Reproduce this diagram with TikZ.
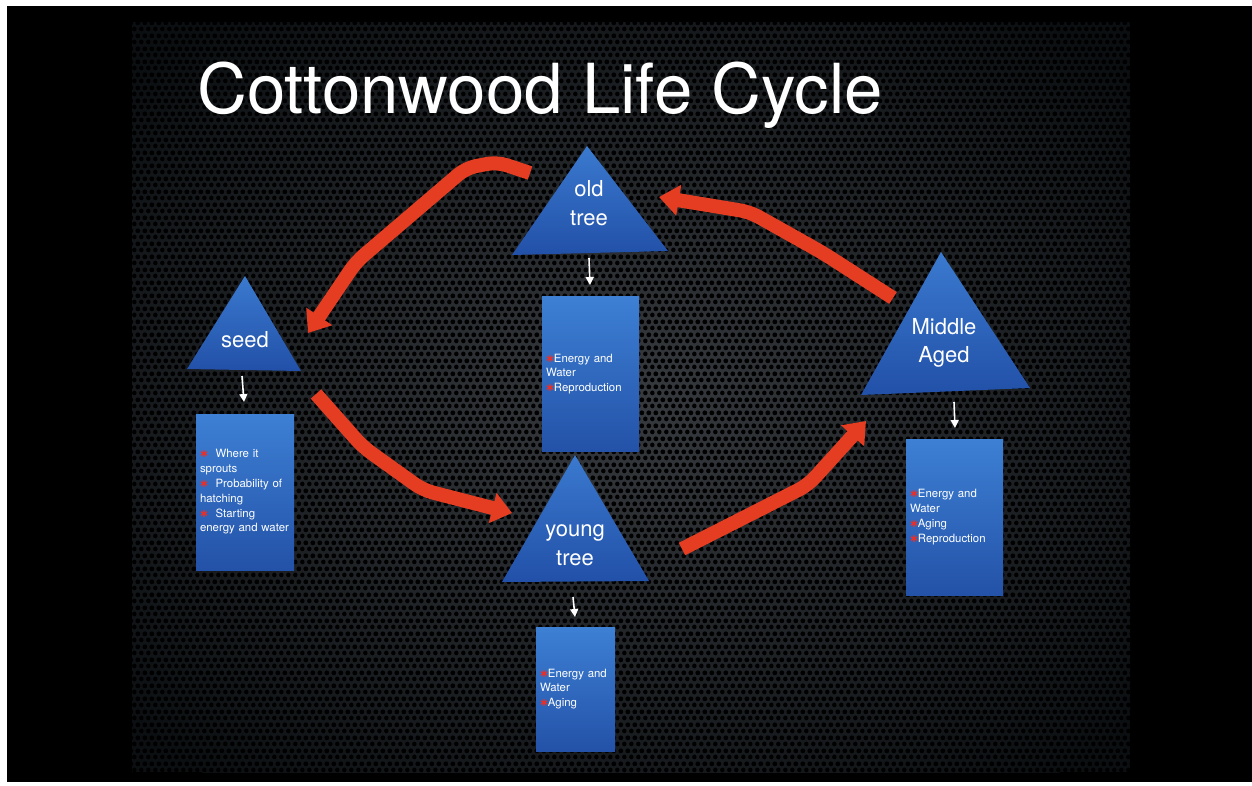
\documentclass[tikz,border=0pt]{standalone}
\usepackage{fontspec}
\setmainfont{TeX Gyre Heros}
\newfontfamily\symfont{DejaVu Sans}
\usetikzlibrary{arrows.meta,patterns}
\definecolor{bgmid}{HTML}{373A3E}
\definecolor{bgedge}{HTML}{0C0F12}
\definecolor{boxtop}{HTML}{3D80D4}
\definecolor{boxbot}{HTML}{2352A8}
\definecolor{tritop}{HTML}{3A7ACF}
\definecolor{tribot}{HTML}{2250A8}
\definecolor{arrowred}{HTML}{E43D22}
\definecolor{bulred}{HTML}{E8302A}
\pgfdeclarepatternformonly{holes}{\pgfpointorigin}{\pgfpoint{7.3pt}{12.6pt}}{\pgfpoint{7.3pt}{12.6pt}}{%
  \pgfpathcircle{\pgfpoint{3.65pt}{3.15pt}}{2.45pt}%
  \pgfpathcircle{\pgfpoint{0pt}{9.45pt}}{2.45pt}%
  \pgfpathcircle{\pgfpoint{7.3pt}{9.45pt}}{2.45pt}%
  \pgfusepath{fill}}
\newcommand{\bul}{{\symfont\color{bulred}\fontsize{9.5}{9.5}\selectfont ✱}}
\begin{document}
\begin{tikzpicture}[x=1pt,y=-1pt,
  infobox/.style={top color=boxtop, bottom color=boxbot, inner xsep=4pt, inner ysep=0pt,
    align=left, text=white, font=\fontsize{11.4}{14.8}\selectfont},
  trilabel/.style={text=white, align=center, inner sep=0pt, font=\fontsize{22}{28.5}\selectfont},
  redarrow/.style={draw=arrowred, line width=14pt, rounded corners=10pt,
    -{Triangle[width=30pt,length=20pt]}},
  downarrow/.style={draw=white, line width=1.6pt, -{Triangle[width=8pt,length=8pt]}},
  tri/.style={top color=tritop, bottom color=tribot}]
\useasboundingbox (0,0) rectangle (1252,785);
\fill[white] (0,0) rectangle (1252,785);
\fill[black] (7,6) rectangle (1252,782);
\begin{scope}
  \clip (132,22) rectangle (1130,772);
  \fill[bgedge] (132,22) rectangle (1130,772);
  \shade[inner color=bgmid, outer color=bgedge] (631,400) ellipse [x radius=660, y radius=490];
\end{scope}
\fill[pattern=holes, pattern color=black] (132,22) rectangle (1130,772);

% title
\node[anchor=base west, inner sep=0pt, text=white, font=\fontsize{69}{69}\selectfont] (title) at (197,113) {Cottonwood Life Cycle};

% triangles
\shade[tri] (245,276) -- (187,369) -- (301,371) -- cycle;
\shade[tri] (587,146) -- (512,255) -- (668,251) -- cycle;
\shade[tri] (575,455) -- (502,582) -- (649,581) -- cycle;
\shade[tri] (941,252) -- (861,395) -- (1030,388) -- cycle;

\node[trilabel] (seed) at (245,340) {seed};
\node[trilabel] (old) at (589,203) {old\\tree};
\node[trilabel] (young) at (575,545) {young\\tree};
\node[trilabel] (middle) at (944,343) {Middle\\Aged};

% boxes
\node[infobox, minimum width=98, minimum height=156, text width=90] (seedbox) at (245,492)
  {\bul\ \ Where it\\sprouts\\\bul\ \ Probability of\\hatching\\\bul\ \ Starting\\energy and water};
\node[infobox, minimum width=97, minimum height=155, text width=89] (oldbox) at (590.5,374)
  {\bul Energy and\\Water\\\bul Reproduction};
\node[infobox, minimum width=79, minimum height=124, text width=71] (youngbox) at (575.5,689)
  {\bul Energy and\\Water\\\bul Aging};
\node[infobox, minimum width=97, minimum height=156, text width=89] (middlebox) at (954.5,517)
  {\bul Energy and\\Water\\\bul Aging\\\bul Reproduction};

% small white arrows
\coordinate (s1) at (242,376); \coordinate (s2) at (244,402);
\coordinate (o1) at (589,258); \coordinate (o2) at (590,285);
\coordinate (y1) at (573,597); \coordinate (y2) at (575,617);
\coordinate (m1) at (954,402); \coordinate (m2) at (955,428);
\draw[downarrow] (s1) -- (s2);
\draw[downarrow] (o1) -- (o2);
\draw[downarrow] (y1) -- (y2);
\draw[downarrow] (m1) -- (m2);

% red cycle arrows
\coordinate (a1s) at (530,173);
\coordinate (a1t) at (308,333);
\draw[redarrow] (a1s) -- (497,162) -- (466,168) -- (356,262) -- (a1t);
\coordinate (a2s) at (316,394);
\coordinate (a2t) at (512,513);
\draw[redarrow] (a2s) -- (363,447) -- (423,490) -- (a2t);
\coordinate (a3s) at (682,549);
\coordinate (a3t) at (866,421);
\draw[redarrow] (a3s) -- (808,485) -- (a3t);
\coordinate (a4s) at (893,298);
\coordinate (a4t) at (659,197);
\draw[redarrow] (a4s) -- (823,253) -- (750,212) -- (a4t);
\end{tikzpicture}
\end{document}
